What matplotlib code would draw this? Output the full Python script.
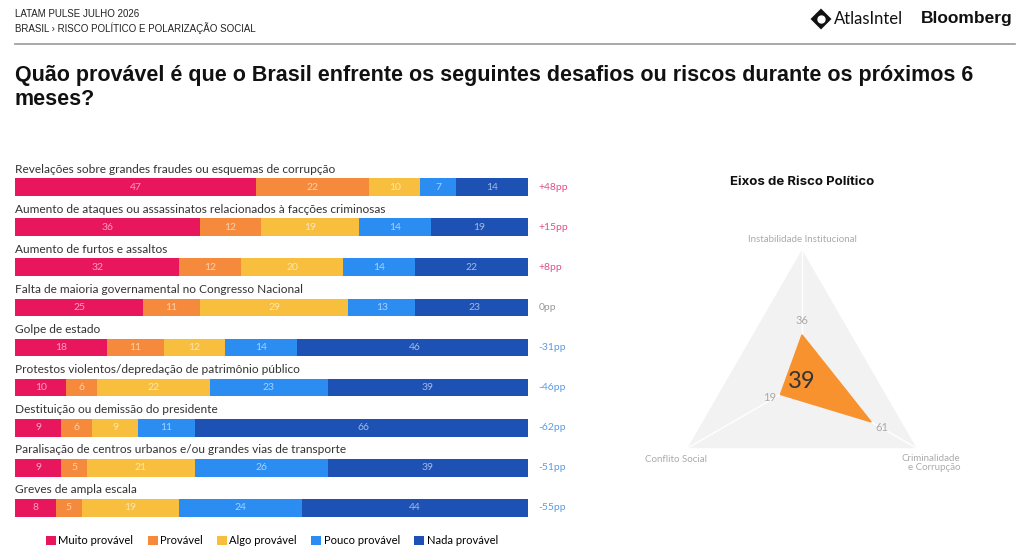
import numpy as np
import matplotlib.pyplot as plt
from matplotlib.patches import Patch

# data
categories = [
    'Revelações sobre grandes fraudes ou esquemas de corrupção',
    'Aumento de ataques ou assassinatos relacionados à facções criminosas',
    'Aumento de furtos e assaltos',
    'Falta de maioria governamental no Congresso Nacional',
    'Golpe de estado',
    'Protestos violentos/depredação de patrimônio público',
    'Destituição ou demissão do presidente',
    'Paralisação de centros urbanos e/ou grandes vias de transporte',
    'Greves de ampla escala',
]
muito_provavel = [47, 36, 32, 25, 18, 10, 9, 9, 8]
provavel = [22, 12, 12, 11, 11, 6, 6, 5, 5]
algo_provavel = [10, 19, 20, 29, 12, 22, 9, 21, 19]
pouco_provavel = [7, 14, 14, 13, 14, 23, 11, 26, 24]
nada_provavel = [14, 19, 22, 23, 46, 39, 66, 39, 44]
net_pp = [48, 15, 8, 0, -31, -46, -62, -51, -55]

series_names = ['Muito provável', 'Provável', 'Algo provável', 'Pouco provável', 'Nada provável']
series_colors = ['#e8175d', '#f58a3c', '#f8bf3f', '#2b8cf2', '#1d51b4']

radar_axes = ['Instabilidade Institucional', 'Criminalidade\ne Corrupção', 'Conflito Social']
radar_values = [36, 61, 19]
radar_index = 39

series = [muito_provavel, provavel, algo_provavel, pouco_provavel, nada_provavel]

W, H = 1024, 555
fig = plt.figure(figsize=(W / 100, H / 100), dpi=100)
fig.patch.set_facecolor('white')

def fx(px):
    return px / W

def fy(py):
    return 1 - py / H

title_font = ['Liberation Sans Narrow', 'Liberation Sans', 'DejaVu Sans']
body_font = ['Lato', 'DejaVu Sans']

# header
fig.text(fx(15), fy(14), 'LATAM PULSE JULHO 2026', fontsize=7, family=title_font,
         color='#222222', va='center')
fig.text(fx(15), fy(28), 'BRASIL › RISCO POLÍTICO E POLARIZAÇÃO SOCIAL', fontsize=7,
         family=title_font, color='#222222', va='center')
fig.add_artist(plt.Line2D([fx(15), fx(1015)], [fy(44), fy(44)], color='#999999', lw=1.2))
# AtlasIntel logo mark: black rounded diamond with white centre
fig.add_artist(plt.Line2D([fx(821)], [fy(19)], marker='D', markersize=9.5, color='#111111',
                          markeredgecolor='#111111', markeredgewidth=1.5,
                          solid_joinstyle='round'))
fig.add_artist(plt.Line2D([fx(821)], [fy(19)], marker='o', markersize=5, color='white',
                          markeredgecolor='white'))
fig.text(fx(834), fy(19), 'AtlasIntel', fontsize=12, family=['Lato', 'DejaVu Sans'],
         color='#111111', va='center')
fig.text(fx(1013), fy(19), 'Bloomberg', fontsize=12.5, family=['Liberation Sans', 'DejaVu Sans'],
         fontweight='bold', color='#111111', va='center', ha='right')

fig.text(fx(15), fy(76), 'Quão provável é que o Brasil enfrente os seguintes desafios ou riscos durante os próximos 6',
         fontsize=15.5, family=title_font, fontweight='bold', color='#111111', va='center')
fig.text(fx(15), fy(100), 'meses?', fontsize=15.5, family=title_font, fontweight='bold',
         color='#111111', va='center')

# stacked bars
ax = fig.add_axes([fx(15), fy(528), fx(528) - fx(15), fy(167) - fy(528)])
y = np.arange(len(categories))
left = np.zeros(len(categories))
for vals, name, col in zip(series, series_names, series_colors):
    vals = np.array(vals)
    ax.barh(y, vals, left=left, height=0.44, color=col, edgecolor='none', label=name)
    for yi, l, v in zip(y, left, vals):
        ax.text(l + v / 2, yi, str(v), ha='center', va='center', fontsize=7.5,
                color='white', alpha=0.6, family=body_font)
    left += vals
ax.set_xlim(0, 100)
ax.set_ylim(len(categories) - 0.5, -0.5)
ax.axis('off')

for yi, cat, pp in zip(y, categories, net_pp):
    ax.text(0, yi - 0.45, cat, ha='left', va='center', fontsize=8.6, color='#333333',
            family=body_font)
    if pp > 0:
        lab, col = f'+{pp}pp', '#e0508a'
    elif pp < 0:
        lab, col = f'-{abs(pp)}pp', '#5b9be0'
    else:
        lab, col = f'{pp}pp', '#999999'
    ax.text(102, yi, lab, ha='left', va='center', fontsize=7.5, color=col, family=body_font)

handles = [Patch(facecolor=c, edgecolor='none') for c in series_colors]
fig.legend(handles, series_names, loc='center', bbox_to_anchor=(fx(272), fy(541)), ncol=5,
           frameon=False, handlelength=0.9, handleheight=0.9, handletextpad=0.2,
           columnspacing=1.3, prop={'family': body_font, 'size': 8})

# radar
cx, cy, r = 802, 382, 131
rax = fig.add_axes([fx(cx - r), fy(cy + r), fx(2 * r), fy(cy - r) - fy(cy + r)], projection='polar')
rax.set_theta_zero_location('N')
rax.set_theta_direction(-1)
angles = np.linspace(0, 2 * np.pi, len(radar_axes), endpoint=False)
ang_c = np.append(angles, angles[0])
rax.fill(ang_c, [100] * len(ang_c), color='#f2f2f2', zorder=1)
for a in angles:
    rax.plot([a, a], [0, 100], color='white', lw=1, zorder=2)
vals_c = np.append(radar_values, radar_values[0])
rax.fill(ang_c, vals_c, color='#f7922f', zorder=3)
rax.set_ylim(0, 100)
rax.grid(False)
rax.set_xticks([])
rax.set_yticks([])
rax.spines['polar'].set_visible(False)
rax.patch.set_alpha(0)

offsets = [(0, 10), (8, -4), (-8, -2)]
for a, v, (dx, dy) in zip(angles, radar_values, offsets):
    rax.annotate(str(v), (a, v), xytext=(dx, dy), textcoords='offset points', ha='center',
                 va='center', fontsize=8, color='#aaaaaa', family=body_font, zorder=4)
rax.text(0, 0, str(radar_index), ha='center', va='center', fontsize=17, color='#333333',
         family=body_font, zorder=5)

fig.text(fx(802), fy(182), 'Eixos de Risco Político', fontsize=9.5, fontweight='bold',
         family=['Inter', 'DejaVu Sans'], color='#111111', ha='center', va='center')
fig.text(fx(802), fy(240), radar_axes[0], fontsize=7, color='#aaaaaa', family=body_font,
         ha='center', va='center')
fig.text(fx(676), fy(460), radar_axes[2], fontsize=7, color='#aaaaaa', family=body_font,
         ha='center', va='center')
fig.text(fx(960), fy(463), radar_axes[1], fontsize=7, color='#aaaaaa', family=body_font,
         ha='right', va='center', multialignment='right', linespacing=1.0)

fig.savefig('out.png', dpi=100, facecolor='white')
